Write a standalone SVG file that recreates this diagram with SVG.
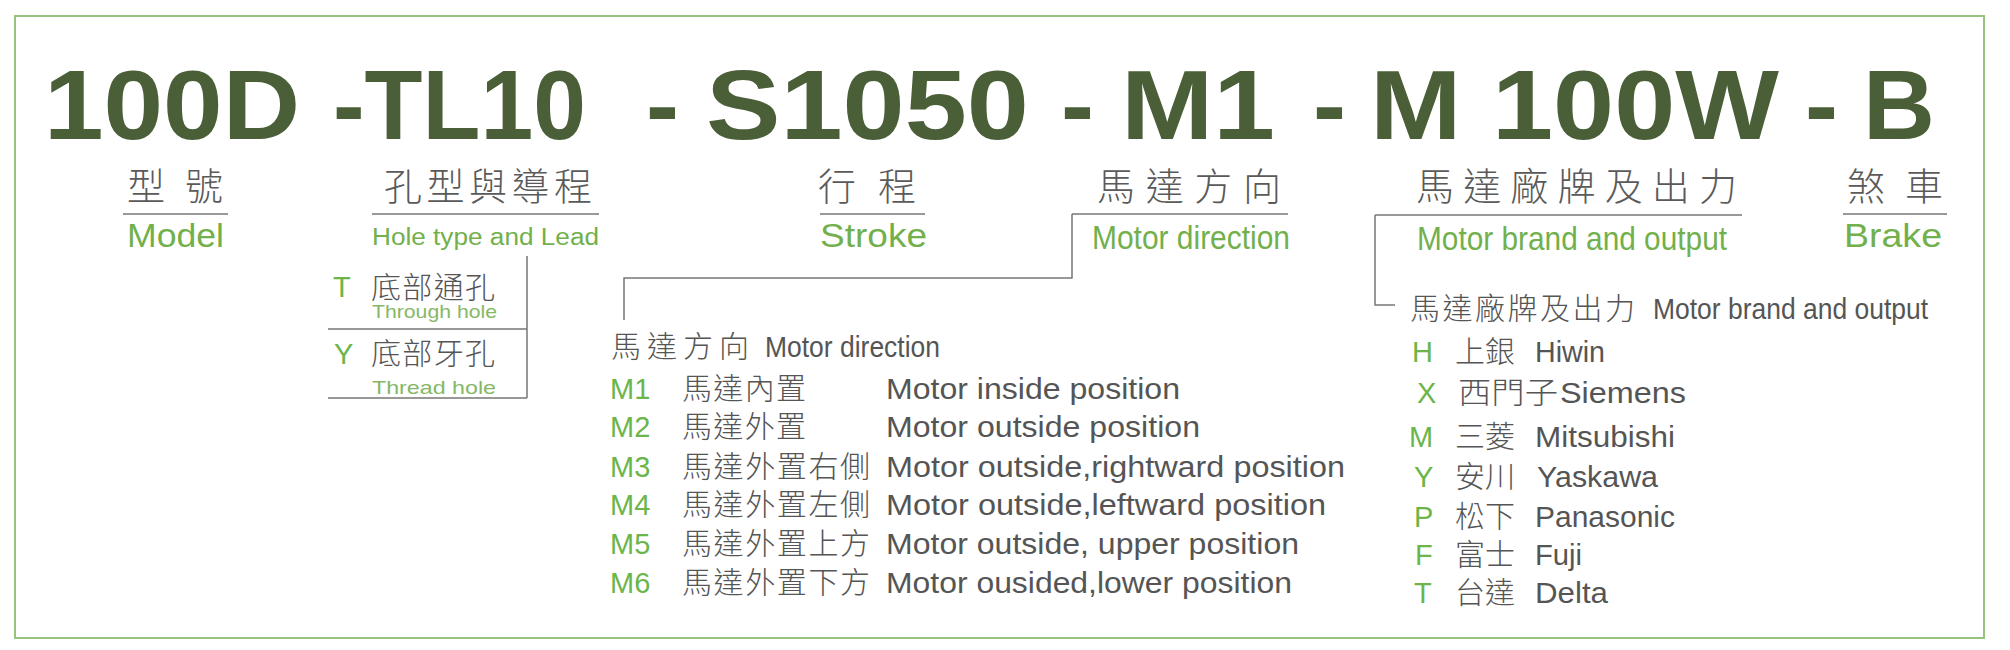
<svg xmlns="http://www.w3.org/2000/svg" width="2010" height="650" viewBox="0 0 2010 650">
<style>
.title{font-family:"Liberation Sans",Arial,sans-serif;font-weight:bold;font-size:99px;fill:#4a5f38}
.cnh{font-family:"Noto Sans CJK TC","Noto Sans CJK SC",sans-serif;font-size:38px;fill:#5a5a5a;font-weight:300}
.cn{font-family:"Noto Sans CJK TC","Noto Sans CJK SC",sans-serif;font-size:30px;fill:#555;font-weight:300}
.lbl{font-family:"Liberation Sans",Arial,sans-serif;font-size:34px;fill:#72b04c}
.sm{font-family:"Liberation Sans",Arial,sans-serif;font-size:23px;fill:#72b04c}
.sub{font-family:"Liberation Sans",Arial,sans-serif;font-size:19px;fill:#86b866}
.code{font-family:"Liberation Sans",Arial,sans-serif;font-size:29px;fill:#6cb54a}
.en{font-family:"Liberation Sans",Arial,sans-serif;font-size:29px;fill:#555}
.ln{stroke:#777;stroke-width:1.5;fill:none}
</style>
<rect x="0" y="0" width="2010" height="650" fill="#fff"/>
<rect x="15" y="16" width="1969" height="622" fill="none" stroke="#97c47a" stroke-width="2"/>

<g id="title">
<text class="title" x="44" y="139" textLength="256" lengthAdjust="spacingAndGlyphs">100D</text>
<text class="title" x="333" y="139" textLength="253" lengthAdjust="spacingAndGlyphs">-TL10</text>
<text class="title" x="646" y="139">-</text>
<text class="title" x="706" y="139" textLength="323" lengthAdjust="spacingAndGlyphs">S1050</text>
<text class="title" x="1061" y="139">-</text>
<text class="title" x="1121" y="139" textLength="154" lengthAdjust="spacingAndGlyphs">M1</text>
<text class="title" x="1313" y="139">-</text>
<text class="title" x="1370" y="139" textLength="409" lengthAdjust="spacingAndGlyphs">M 100W</text>
<text class="title" x="1805" y="139">-</text>
<text class="title" x="1863" y="139" textLength="72" lengthAdjust="spacingAndGlyphs">B</text>
</g>

<g id="connectors">
<line class="ln" x1="123" y1="214" x2="228" y2="214"/>
<line class="ln" x1="372" y1="214" x2="599" y2="214"/>
<line class="ln" x1="820" y1="214" x2="925" y2="214"/>
<line class="ln" x1="1072" y1="214" x2="1288" y2="214"/>
<line class="ln" x1="1375" y1="215" x2="1742" y2="215"/>
<line class="ln" x1="1843" y1="214" x2="1947" y2="214"/>
<path class="ln" d="M527 256 V398 M328 329 H527 M328 398 H527"/>
<path class="ln" d="M1072 214 V278 H624 V320"/>
<path class="ln" d="M1375 215 V305 H1395"/>
</g>

<g id="model">
<text class="cnh" x="127" y="200" textLength="96" lengthAdjust="spacing">型 號</text>
<text class="lbl" x="127" y="247" textLength="97" lengthAdjust="spacingAndGlyphs">Model</text>
</g>

<g id="hole">
<text class="cnh" x="384" y="200" textLength="208" lengthAdjust="spacing">孔型與導程</text>
<text class="sm" x="372" y="245" textLength="227" lengthAdjust="spacingAndGlyphs">Hole type and Lead</text>
<text class="code" x="333" y="297" font-size="28">T</text>
<text class="cn" x="371" y="298" textLength="124" lengthAdjust="spacing">底部通孔</text>
<text class="sub" x="372" y="318" textLength="125" lengthAdjust="spacingAndGlyphs">Through hole</text>
<text class="code" x="334" y="364" font-size="28">Y</text>
<text class="cn" x="371" y="364" textLength="124" lengthAdjust="spacing">底部牙孔</text>
<text class="sub" x="372" y="394" textLength="124" lengthAdjust="spacingAndGlyphs">Thread hole</text>
</g>

<g id="stroke">
<text class="cnh" x="818" y="200" textLength="98" lengthAdjust="spacing">行 程</text>
<text class="lbl" x="820" y="247" textLength="107" lengthAdjust="spacingAndGlyphs">Stroke</text>
</g>

<g id="motor-direction">
<text class="cnh" x="1097" y="200" textLength="184" lengthAdjust="spacing">馬達方向</text>
<text class="lbl" x="1092" y="249" font-size="32" textLength="198" lengthAdjust="spacingAndGlyphs">Motor direction</text>
</g>

<g id="direction-list">
<text class="cn" x="611" y="357" font-size="28" textLength="138" lengthAdjust="spacing">馬達方向</text>
<text class="en" x="765" y="357" font-size="28" textLength="175" lengthAdjust="spacingAndGlyphs">Motor direction</text>
<text class="code" x="610" y="399">M1</text>
<text class="cn" x="682" y="399" textLength="124" lengthAdjust="spacing">馬達內置</text>
<text class="en" x="886" y="399" textLength="294" lengthAdjust="spacingAndGlyphs">Motor inside position</text>
<text class="code" x="610" y="437">M2</text>
<text class="cn" x="682" y="437" textLength="124" lengthAdjust="spacing">馬達外置</text>
<text class="en" x="886" y="437" textLength="314" lengthAdjust="spacingAndGlyphs">Motor outside position</text>
<text class="code" x="610" y="477">M3</text>
<text class="cn" x="682" y="477" textLength="188" lengthAdjust="spacing">馬達外置右側</text>
<text class="en" x="886" y="477" textLength="459" lengthAdjust="spacingAndGlyphs">Motor outside,rightward position</text>
<text class="code" x="610" y="515">M4</text>
<text class="cn" x="682" y="515" textLength="188" lengthAdjust="spacing">馬達外置左側</text>
<text class="en" x="886" y="515" textLength="440" lengthAdjust="spacingAndGlyphs">Motor outside,leftward position</text>
<text class="code" x="610" y="554">M5</text>
<text class="cn" x="682" y="554" textLength="188" lengthAdjust="spacing">馬達外置上方</text>
<text class="en" x="886" y="554" textLength="413" lengthAdjust="spacingAndGlyphs">Motor outside, upper position</text>
<text class="code" x="610" y="593">M6</text>
<text class="cn" x="682" y="593" textLength="188" lengthAdjust="spacing">馬達外置下方</text>
<text class="en" x="886" y="593" textLength="406" lengthAdjust="spacingAndGlyphs">Motor ousided,lower position</text>
</g>

<g id="motor-brand">
<text class="cnh" x="1416" y="200" textLength="321" lengthAdjust="spacing">馬達廠牌及出力</text>
<text class="lbl" x="1417" y="250" font-size="32" textLength="310" lengthAdjust="spacingAndGlyphs">Motor brand and output</text>
</g>

<g id="brand-list">
<text class="cn" x="1410" y="319" textLength="225" lengthAdjust="spacing">馬達廠牌及出力</text>
<text class="en" x="1653" y="319" font-size="28" textLength="275" lengthAdjust="spacingAndGlyphs">Motor brand and output</text>
<text class="code" x="1412" y="362">H</text>
<text class="cn" x="1455" y="362" font-size="31">上銀</text>
<text class="en" x="1535" y="362" textLength="70" lengthAdjust="spacingAndGlyphs">Hiwin</text>
<text class="code" x="1417" y="403">X</text>
<text class="cn" x="1458" y="403" font-size="32" textLength="100" lengthAdjust="spacingAndGlyphs">西門子</text>
<text class="en" x="1560" y="403" textLength="126" lengthAdjust="spacingAndGlyphs">Siemens</text>
<text class="code" x="1409" y="447">M</text>
<text class="cn" x="1455" y="447" font-size="31">三菱</text>
<text class="en" x="1535" y="447" textLength="140" lengthAdjust="spacingAndGlyphs">Mitsubishi</text>
<text class="code" x="1414" y="487">Y</text>
<text class="cn" x="1455" y="487" font-size="31">安川</text>
<text class="en" x="1537" y="487" textLength="121" lengthAdjust="spacingAndGlyphs">Yaskawa</text>
<text class="code" x="1414" y="527">P</text>
<text class="cn" x="1455" y="527" font-size="31">松下</text>
<text class="en" x="1535" y="527" textLength="140" lengthAdjust="spacingAndGlyphs">Panasonic</text>
<text class="code" x="1415" y="565">F</text>
<text class="cn" x="1455" y="565" font-size="31">富士</text>
<text class="en" x="1535" y="565" textLength="47" lengthAdjust="spacingAndGlyphs">Fuji</text>
<text class="code" x="1414" y="603">T</text>
<text class="cn" x="1455" y="603" font-size="31">台達</text>
<text class="en" x="1535" y="603" textLength="73" lengthAdjust="spacingAndGlyphs">Delta</text>
</g>

<g id="brake">
<text class="cnh" x="1847" y="200" textLength="96" lengthAdjust="spacing">煞 車</text>
<text class="lbl" x="1844" y="247" textLength="98" lengthAdjust="spacingAndGlyphs">Brake</text>
</g>
</svg>
